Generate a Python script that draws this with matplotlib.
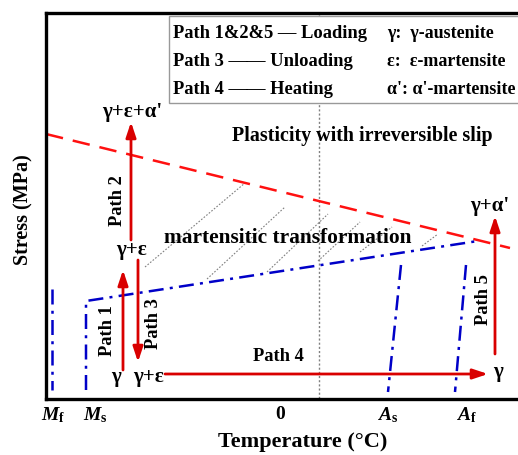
import matplotlib
matplotlib.use('Agg')
import matplotlib.pyplot as plt
from matplotlib.patches import Rectangle

plt.rcParams['font.family'] = 'Liberation Serif'
plt.rcParams['font.weight'] = 'bold'
plt.rcParams['axes.labelweight'] = 'bold'
plt.rcParams['mathtext.fontset'] = 'custom'
plt.rcParams['mathtext.it'] = 'Liberation Serif:italic:bold'
plt.rcParams['mathtext.rm'] = 'Liberation Serif:bold'
plt.rcParams['mathtext.bf'] = 'Liberation Serif:bold'

# schematic coordinates (temperature axis left->right, stress axis downward in plot units)
slip_x = [46, 510]
slip_y = [135, 249]

ms_line_x = [86, 86, 478]
ms_line_y = [391, 302, 242]
mf_line_x = [52, 52]
mf_line_y = [290, 391]
as_line_x = [401, 388]
as_line_y = [266, 393]
af_line_x = [466, 455]
af_line_y = [266, 393]

zero_x = 319

hatch_lines = [
    ((145, 268), (245, 184)),
    ((207, 280), (285, 208)),
    ((267, 273), (328, 215)),
    ((318, 262), (360, 223)),
    ((360, 253), (392, 228)),
    ((422, 247), (438, 235)),
]

# arrows: (start, end)
paths = {
    'Path 1': ((123, 371), (123, 271)),
    'Path 2': ((131, 241), (131, 123)),
    'Path 3': ((138, 261), (138, 363)),
    'Path 4': ((165, 375), (488, 375)),
    'Path 5': ((495, 355), (495, 217)),
}
path_labels = [
    ('Path 1', 108, 331, 90),
    ('Path 2', 118, 201, 90),
    ('Path 3', 153, 324, 90),
    ('Path 4', 278, 357, 0),
    ('Path 5', 483, 300, 90),
]
phase_labels = [
    ("γ+ε+α'", 132, 112),
    ('γ+ε', 131, 250),
    ('γ', 116, 377),
    ('γ+ε', 148, 377),
    ('γ', 498, 372),
    ("γ+α'", 490, 206),
]

tick_pos = [53, 95, 280, 388, 466]
tick_labels = [r'$M_\mathrm{f}$', r'$M_\mathrm{s}$', '0', r'$A_\mathrm{s}$', r'$A_\mathrm{f}$']

legend_left = ['Path 1&2&5 — Loading', 'Path 3 —— Unloading', 'Path 4 —— Heating']
legend_right = ['γ:  γ-austenite', 'ε:  ε-martensite', "α': α'-martensite"]
legend_rows_y = [34, 62, 90]

red = '#d90000'
blue = '#0000c8'

fig = plt.figure(figsize=(5.18, 4.56), dpi=100)
ax = fig.add_axes([46 / 518, (456 - 400) / 456, (518 - 46) / 518, (400 - 14) / 456])
ax.set_xlim(46, 518)
ax.set_ylim(400, 14)

for s in ['top', 'left', 'bottom']:
    ax.spines[s].set_linewidth(2.4)
ax.spines['right'].set_visible(False)
ax.set_yticks([])
ax.set_xticks(tick_pos)
ax.set_xticklabels(tick_labels, fontsize=14, fontweight='bold')
ax.tick_params(axis='x', length=0, pad=4)

ax.plot([zero_x, zero_x], [14, 400], color='gray', lw=1, ls=(0, (1.5, 1.5)), zorder=1)

for (x0, y0), (x1, y1) in hatch_lines:
    ax.plot([x0, x1], [y0, y1], color='gray', lw=0.8, ls=(0, (1.5, 1.5)), zorder=1)

ax.plot(slip_x, slip_y, color='#ff1010', lw=1.8, ls=(0, (7, 4)), zorder=2)

dashdot = (0, (6, 2.5, 1.2, 2.5))
for xs, ys in [(ms_line_x, ms_line_y), (mf_line_x, mf_line_y),
               (as_line_x, as_line_y), (af_line_x, af_line_y)]:
    ax.plot(xs, ys, color=blue, lw=1.8, ls=dashdot, zorder=2)

for name, (p0, p1) in paths.items():
    ax.annotate('', xy=p1, xytext=p0,
                arrowprops=dict(arrowstyle='-|>,head_length=0.9,head_width=0.3',
                                color=red, lw=2, shrinkA=0, shrinkB=0),
                zorder=3)

for txt, x, y, rot in path_labels:
    ax.text(x, y, txt, rotation=rot, ha='center', va='center', fontsize=13.3, fontweight='bold')

for txt, x, y in phase_labels:
    ax.text(x, y, txt, ha='center', va='center', fontsize=15, fontweight='bold')

ax.text(362, 136, 'Plasticity with irreversible slip', ha='center', va='center',
        fontsize=14.4, fontweight='bold')
ax.text(288, 238, 'martensitic transformation', ha='center', va='center',
        fontsize=15.4, fontweight='bold')

ax.add_patch(Rectangle((169, 17), 360, 87, facecolor='white', edgecolor='#999999',
                       lw=1, zorder=4, clip_on=False))
for txt, y in zip(legend_left, legend_rows_y):
    ax.text(173, y, txt, ha='left', va='center', fontsize=13.3, fontweight='bold', zorder=5)
for txt, y in zip(legend_right, legend_rows_y):
    ax.text(387, y, txt, ha='left', va='center', fontsize=13, fontweight='bold', zorder=5)

fig.text(303 / 518, 1 - 442 / 456, 'Temperature (°C)', ha='center', va='center',
         fontsize=16, fontweight='bold')
fig.text(23 / 518, 1 - 210 / 456, 'Stress (MPa)', rotation=90, ha='center', va='center',
         fontsize=14.5, fontweight='bold')

fig.savefig('out.png', dpi=100)
